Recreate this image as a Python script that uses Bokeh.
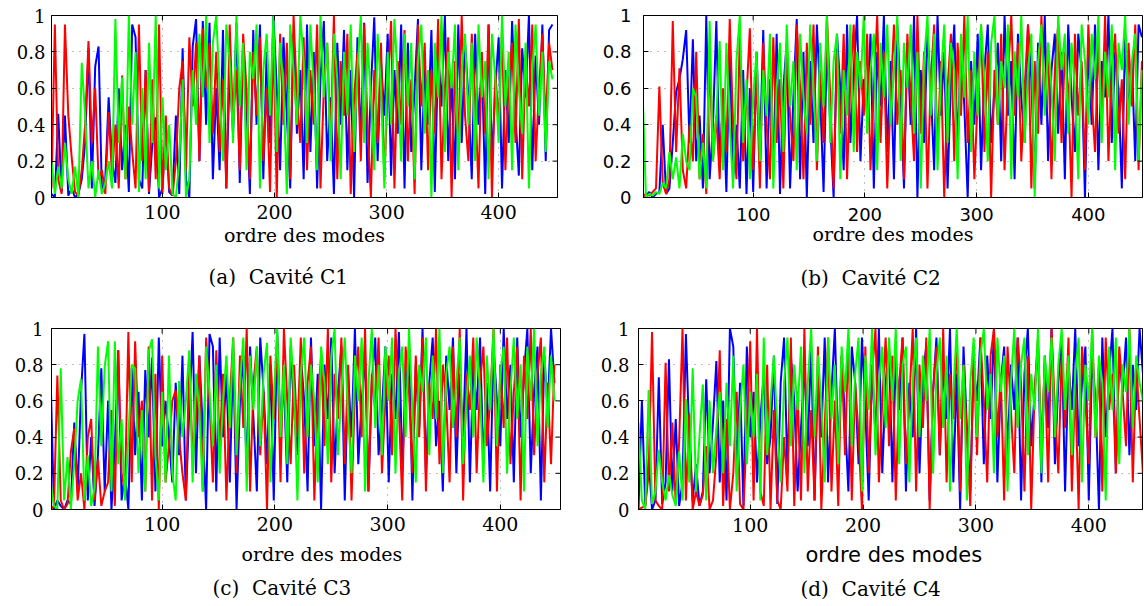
from bokeh.plotting import figure
from bokeh.models import Range1d, FixedTicker, Title
from bokeh.layouts import column, row
from bokeh.embed import file_html
from bokeh.resources import INLINE
import math

# mode order (every third mode is kept)
modes = [1 + 3 * i for i in range(150)]

# values, in percent (converted to fractions below)
c1_blue_pct = [
    2, 0, 46, 3, 45, 1, 5, 0, 2, 10, 30, 82, 5, 72, 83, 2, 10, 55, 20, 8, 60, 15, 40, 3, 95,
    88, 10, 5, 70, 2, 30, 44, 0, 5, 40, 3, 1, 45, 2, 82, 10, 0, 83, 98, 20, 97, 40, 96, 10, 60,
    15, 92, 5, 70, 35, 96, 8, 85, 50, 2, 92, 40, 95, 10, 80, 30, 100, 60, 15, 88, 45, 5, 90, 35, 70,
    10, 95, 25, 80, 5, 65, 97, 20, 55, 2, 85, 40, 92, 15, 70, 0, 88, 30, 96, 8, 60, 99, 20, 75, 45,
    90, 12, 70, 35, 95, 5, 85, 25, 60, 98, 15, 72, 40, 92, 3, 80, 50, 100, 20, 65, 10, 95, 30, 85, 55,
    10, 90, 40, 75, 2, 95, 20, 60, 88, 5, 70, 30, 97, 45, 12, 82, 55, 100, 15, 78, 40, 95, 20, 92, 95]
c1_red_pct = [
    5, 95, 10, 2, 95, 45, 22, 3, 1, 15, 40, 86, 30, 60, 10, 15, 2, 47, 12, 40, 5, 67, 10, 50, 25,
    5, 95, 20, 70, 3, 65, 10, 95, 2, 45, 5, 1, 20, 60, 75, 15, 88, 50, 85, 20, 93, 60, 85, 35, 80,
    25, 65, 5, 95, 40, 70, 15, 90, 60, 10, 80, 45, 88, 20, 60, 3, 90, 0, 90, 40, 85, 10, 100, 55, 30,
    88, 15, 70, 40, 95, 5, 60, 85, 30, 100, 10, 75, 45, 90, 2, 55, 80, 20, 95, 40, 0, 70, 30, 85, 10,
    60, 97, 5, 75, 40, 92, 20, 65, 2, 95, 50, 85, 15, 70, 35, 98, 10, 60, 88, 0, 75, 30, 100, 45, 20,
    90, 55, 5, 80, 35, 95, 0, 70, 40, 92, 15, 65, 85, 30, 98, 10, 75, 50, 95, 20, 60, 90, 40, 85, 70]
c1_green_pct = [
    20, 2, 17, 5, 30, 10, 2, 17, 0, 74, 45, 5, 20, 0, 15, 2, 8, 20, 5, 98, 30, 66, 10, 100, 40,
    80, 3, 60, 10, 85, 30, 100, 5, 55, 15, 40, 2, 0, 20, 65, 0, 10, 70, 40, 90, 55, 100, 30, 85, 100,
    60, 20, 95, 75, 30, 100, 50, 85, 15, 80, 65, 95, 5, 70, 90, 45, 100, 25, 85, 60, 2, 95, 70, 40, 100,
    75, 30, 95, 60, 15, 100, 55, 85, 20, 90, 65, 10, 80, 45, 95, 25, 70, 100, 30, 85, 55, 15, 90, 60, 5,
    80, 40, 98, 65, 20, 90, 50, 85, 10, 75, 95, 35, 70, 0, 85, 55, 100, 25, 80, 60, 95, 15, 70, 90, 40,
    85, 20, 95, 55, 75, 10, 90, 65, 30, 100, 50, 80, 15, 95, 60, 35, 85, 5, 70, 95, 45, 80, 25, 75, 65]

c2_blue_pct = [
    2, 1, 3, 0, 2, 3, 40, 2, 5, 30, 58, 65, 76, 92, 30, 87, 20, 45, 5, 100, 10, 40, 97, 15, 55,
    3, 85, 10, 40, 5, 70, 2, 60, 3, 80, 25, 92, 5, 65, 15, 90, 2, 60, 85, 5, 55, 98, 10, 80, 0,
    75, 30, 95, 55, 3, 85, 40, 0, 90, 60, 15, 95, 30, 70, 100, 20, 65, 45, 90, 5, 80, 50, 100, 25, 75,
    10, 95, 55, 5, 85, 40, 100, 0, 70, 30, 90, 60, 15, 100, 45, 80, 5, 65, 95, 25, 85, 50, 0, 75, 40,
    90, 15, 70, 95, 30, 60, 85, 20, 100, 45, 75, 10, 90, 55, 30, 95, 65, 5, 85, 40, 100, 20, 70, 90, 35,
    80, 10, 95, 55, 25, 90, 70, 0, 85, 40, 95, 15, 75, 55, 100, 30, 80, 60, 5, 90, 45, 75, 20, 95, 88]
c2_red_pct = [
    0, 2, 1, 3, 5, 61, 8, 2, 10, 97, 25, 71, 15, 5, 40, 20, 80, 10, 35, 2, 78, 20, 45, 10, 60,
    25, 98, 40, 10, 89, 20, 55, 93, 15, 70, 5, 85, 40, 10, 88, 30, 65, 5, 80, 45, 20, 95, 60, 10, 85,
    40, 95, 15, 70, 30, 100, 55, 5, 80, 35, 90, 10, 65, 95, 25, 75, 45, 90, 15, 60, 100, 30, 80, 5, 55,
    95, 40, 70, 10, 90, 55, 20, 100, 35, 80, 5, 65, 95, 25, 75, 0, 60, 90, 20, 85, 45, 100, 30, 70, 10,
    55, 95, 25, 80, 0, 70, 40, 90, 15, 65, 100, 45, 85, 20, 60, 95, 5, 75, 35, 100, 50, 85, 10, 70, 95,
    30, 80, 60, 0, 90, 45, 75, 15, 95, 55, 25, 85, 40, 100, 20, 70, 90, 35, 65, 10, 85, 50, 95, 15, 75]
c2_green_pct = [
    58, 0, 2, 1, 3, 2, 8, 5, 25, 10, 22, 5, 35, 20, 15, 60, 55, 10, 30, 5, 97, 20, 45, 86, 15,
    85, 40, 5, 75, 100, 30, 65, 10, 55, 80, 20, 70, 45, 90, 5, 60, 85, 25, 95, 50, 75, 15, 90, 55, 35,
    95, 60, 20, 85, 50, 100, 30, 75, 90, 10, 70, 45, 95, 25, 80, 60, 100, 35, 70, 90, 15, 85, 55, 95, 40,
    70, 100, 20, 85, 60, 95, 35, 80, 5, 75, 100, 45, 90, 15, 65, 95, 30, 85, 70, 10, 90, 55, 100, 25, 80,
    45, 95, 65, 20, 85, 100, 40, 75, 60, 95, 10, 80, 55, 100, 30, 70, 90, 0, 75, 95, 45, 85, 60, 20, 100,
    70, 90, 35, 85, 60, 10, 95, 75, 40, 90, 65, 100, 30, 80, 55, 95, 15, 85, 70, 100, 40, 75, 90, 20, 70]

c3_blue_pct = [
    73, 0, 5, 2, 0, 5, 3, 48, 10, 65, 97, 5, 40, 2, 30, 78, 10, 60, 0, 35, 88, 5, 20, 0, 78,
    30, 65, 5, 77, 40, 84, 10, 95, 35, 60, 40, 15, 70, 30, 85, 5, 55, 98, 20, 85, 45, 0, 97, 90, 10,
    95, 40, 75, 15, 88, 0, 60, 85, 20, 90, 50, 10, 95, 65, 25, 80, 5, 98, 45, 70, 15, 90, 55, 30, 85,
    60, 10, 95, 35, 75, 0, 80, 50, 95, 20, 65, 90, 5, 75, 40, 100, 25, 60, 85, 10, 70, 95, 30, 55, 90,
    15, 75, 50, 98, 25, 65, 90, 5, 80, 45, 100, 20, 70, 95, 35, 60, 10, 85, 55, 95, 20, 75, 40, 100, 15,
    80, 55, 95, 25, 70, 10, 90, 60, 35, 100, 50, 80, 15, 95, 40, 75, 100, 20, 65, 90, 5, 85, 55, 100, 70]
c3_red_pct = [
    0, 2, 74, 5, 0, 3, 32, 45, 5, 20, 0, 40, 50, 5, 28, 2, 10, 15, 55, 2, 88, 20, 10, 98, 15,
    93, 40, 60, 10, 90, 5, 75, 0, 85, 15, 35, 60, 66, 40, 20, 5, 82, 30, 50, 85, 10, 95, 60, 15, 88,
    35, 75, 5, 60, 95, 20, 85, 45, 100, 10, 70, 90, 30, 65, 0, 85, 50, 95, 15, 100, 60, 25, 80, 40, 95,
    20, 70, 90, 5, 60, 85, 35, 100, 15, 75, 50, 95, 25, 80, 5, 65, 90, 40, 100, 10, 75, 55, 95, 20, 60,
    85, 30, 100, 55, 5, 90, 65, 20, 85, 40, 95, 10, 70, 50, 100, 25, 80, 60, 15, 90, 40, 100, 5, 75, 55,
    95, 20, 70, 90, 35, 60, 100, 10, 80, 45, 95, 25, 65, 90, 5, 85, 50, 100, 30, 75, 95, 15, 70, 25, 80]
c3_green_pct = [
    15, 2, 0, 78, 5, 29, 0, 26, 60, 72, 5, 30, 2, 12, 90, 35, 79, 93, 10, 93, 25, 50, 5, 40, 80,
    78, 20, 55, 10, 87, 94, 30, 5, 65, 15, 85, 20, 5, 71, 40, 60, 88, 15, 75, 55, 10, 90, 65, 35, 80,
    20, 60, 85, 45, 95, 30, 70, 95, 10, 85, 55, 90, 35, 75, 92, 15, 60, 100, 40, 80, 25, 95, 65, 5, 75,
    95, 40, 80, 60, 15, 90, 70, 25, 85, 100, 30, 65, 95, 50, 20, 85, 60, 95, 10, 70, 100, 45, 80, 30, 90,
    60, 95, 20, 75, 90, 40, 100, 55, 15, 80, 65, 95, 30, 85, 50, 100, 20, 75, 90, 45, 70, 95, 25, 60, 85,
    40, 95, 65, 15, 85, 55, 100, 35, 75, 90, 20, 65, 95, 50, 80, 10, 90, 60, 100, 35, 75, 90, 45, 85, 60]

c4_blue_pct = [
    0, 60, 2, 28, 0, 5, 73, 3, 15, 83, 10, 50, 2, 15, 97, 40, 5, 25, 2, 10, 72, 20, 48, 82, 15,
    60, 5, 100, 90, 20, 70, 2, 90, 40, 65, 15, 50, 75, 25, 40, 85, 3, 70, 95, 20, 85, 60, 10, 45, 80,
    35, 90, 5, 75, 40, 95, 15, 65, 100, 30, 85, 50, 10, 90, 70, 25, 95, 55, 5, 80, 40, 100, 20, 70, 90,
    15, 85, 55, 95, 10, 70, 40, 100, 20, 75, 90, 5, 65, 95, 30, 80, 50, 100, 15, 75, 0, 90, 45, 10, 80,
    60, 95, 25, 85, 50, 100, 15, 70, 90, 30, 80, 55, 95, 5, 75, 100, 35, 65, 90, 15, 85, 45, 100, 25, 70,
    95, 10, 80, 55, 100, 35, 70, 90, 5, 85, 60, 0, 95, 40, 75, 100, 20, 85, 65, 95, 30, 80, 55, 100, 75]
c4_red_pct = [
    0, 1, 2, 20, 98, 5, 2, 0, 81, 10, 48, 3, 37, 100, 5, 53, 0, 10, 2, 8, 35, 0, 5, 30, 88,
    2, 50, 0, 20, 65, 3, 0, 45, 93, 5, 100, 10, 2, 80, 0, 55, 5, 0, 40, 10, 95, 2, 65, 5, 100,
    10, 55, 5, 90, 0, 45, 95, 10, 60, 2, 85, 30, 95, 5, 70, 40, 0, 90, 20, 75, 100, 15, 60, 95, 35,
    85, 5, 70, 95, 25, 60, 100, 10, 80, 45, 95, 0, 65, 90, 30, 100, 15, 75, 50, 95, 10, 80, 40, 2, 90,
    30, 95, 60, 15, 85, 100, 40, 75, 5, 90, 55, 20, 95, 70, 10, 85, 0, 65, 95, 35, 80, 15, 100, 55, 20,
    85, 45, 95, 10, 70, 0, 90, 60, 25, 100, 40, 80, 10, 95, 55, 75, 20, 90, 65, 35, 100, 15, 80, 50, 20]
c4_green_pct = [
    48, 5, 0, 66, 3, 10, 33, 15, 5, 19, 8, 2, 32, 5, 61, 15, 78, 10, 40, 69, 5, 60, 20, 45, 65,
    20, 70, 35, 85, 10, 55, 80, 25, 65, 40, 75, 5, 95, 30, 60, 85, 45, 15, 70, 95, 35, 80, 55, 90, 20,
    70, 100, 40, 85, 60, 15, 95, 50, 80, 25, 90, 65, 100, 35, 75, 95, 10, 85, 55, 100, 30, 70, 90, 45, 95,
    60, 100, 25, 80, 90, 15, 70, 95, 40, 85, 60, 100, 20, 75, 95, 45, 85, 10, 65, 100, 50, 80, 5, 70, 95,
    40, 85, 100, 55, 75, 20, 95, 65, 85, 10, 70, 100, 45, 80, 95, 30, 75, 55, 100, 20, 85, 65, 95, 40, 80,
    100, 55, 85, 30, 75, 95, 15, 80, 60, 100, 40, 85, 70, 5, 90, 55, 95, 25, 80, 65, 100, 45, 85, 70, 60]

y_ticks = [0, 0.2, 0.4, 0.6, 0.8, 1]
y_tick_labels = ["0", "0.2", "0.4", "0.6", "0.8", "1"]
x_ticks = [100, 200, 300, 400]
x_label = "ordre des modes"
captions = ["(a)\u00a0 Cavité C1", "(b)\u00a0 Cavité C2", "(c)\u00a0 Cavité C3", "(d)\u00a0 Cavité C4"]

SERIF = "DejaVu Serif"
SANS = "DejaVu Sans"


def frac(vals):
    return [v / 100 for v in vals]


def make_panel(series, xr, w, h, borders, tick_font, xt_size, yt_size, x_sb, y_sb,
               xl_font, xl_size, xl_mode, xl_arg, cap_text, cap_offset, cap_valign, cap_sb):
    bl, br, bt, bb = borders
    p = figure(width=w, height=h, x_range=Range1d(*xr), y_range=Range1d(0, 1),
               output_backend="svg", toolbar_location=None,
               min_border_left=bl, min_border_right=br,
               min_border_top=bt, min_border_bottom=bb)
    p.background_fill_color = "white"
    p.border_fill_color = "white"
    p.outline_line_color = "black"
    p.outline_line_width = 1

    for vals, col in zip(series, ["#0000FF", "#FF0000", "#00FF00"]):
        p.line(modes, frac(vals), line_color=col, line_width=2)

    # inward tick marks on the top and right edges of the box
    p.scatter(x_ticks, [y_ticks[-1]] * len(x_ticks), marker="dash", angle=math.pi / 2,
              size=10, line_color="black", line_width=1)
    p.scatter([xr[1]] * len(y_ticks), y_ticks, marker="dash",
              size=10, line_color="black", line_width=1)

    xb = p.xaxis[0]
    yl = p.yaxis[0]
    xb.ticker = FixedTicker(ticks=x_ticks)
    yl.ticker = FixedTicker(ticks=y_ticks)
    yl.major_label_overrides = dict(zip(y_ticks, y_tick_labels))

    for ax in (xb, yl):
        ax.axis_line_color = "black"
        ax.major_tick_line_color = "black"
        ax.major_tick_in = 5
        ax.major_tick_out = 0
        ax.minor_tick_line_color = None
        ax.minor_tick_in = 0
        ax.minor_tick_out = 0
        ax.major_label_text_color = "black"
        ax.major_label_text_font = tick_font
    xb.major_label_text_font_size = f"{xt_size}px"
    yl.major_label_text_font_size = f"{yt_size}px"
    xb.major_label_standoff = x_sb
    yl.major_label_standoff = y_sb

    if xl_mode == "axis":
        xb.axis_label = x_label
        xb.axis_label_text_font = xl_font
        xb.axis_label_text_font_size = f"{xl_size}px"
        xb.axis_label_text_font_style = "normal"
        xb.axis_label_text_color = "black"
        xb.axis_label_standoff = xl_arg
    else:
        xl_offset, xl_sb = xl_arg
        p.add_layout(Title(text=x_label, align="left", offset=xl_offset, vertical_align="top",
                           standoff=xl_sb, text_font=xl_font, text_font_size=f"{xl_size}px",
                           text_font_style="normal", text_color="black"), "below")

    p.grid.grid_line_color = "#808080"
    p.grid.grid_line_dash = "1 6"
    p.grid.grid_line_width = 1

    cap = Title(text=cap_text, align="left", offset=cap_offset, vertical_align=cap_valign,
                standoff=cap_sb, text_font=SERIF, text_font_size="20px",
                text_font_style="normal", text_color="black")
    p.add_layout(cap, "below")
    return p


H1, H2 = 314, 291
pa = make_panel((c1_blue_pct, c1_red_pct, c1_green_pct), (1, 452.5), 595, H1,
                (51, 38, 15, 117), SERIF, 19, 18, 7, 6, SERIF, 19, "axis", 2,
                captions[0], 157, "bottom", 28)
pb = make_panel((c2_blue_pct, c2_red_pct, c2_green_pct), (1.8, 448.5), 548, H1,
                (48, 1, 15, 116), SANS, 18, 18, 10, 12, SERIF, 19, "axis", -1,
                captions[1], 157, "bottom", 32)
pc = make_panel((c3_blue_pct, c3_red_pct, c3_green_pct), (1.8, 453.4), 595, H2,
                (51, 35, 13, 92), SERIF, 19, 18, 7, 8, SERIF, 19, "title", (190, 18),
                captions[2], 161, "top", 0)
pd = make_panel((c4_blue_pct, c4_red_pct, c4_green_pct), (1, 447.6), 548, H2,
                (43, 1, 14, 96), SERIF, 19, 18, 8, 9, SANS, 21, "title", (167, 16),
                captions[3], 162, "top", 0)

layout = column(row(pa, pb), row(pc, pd))

with open("out.html", "w") as f:
    f.write(file_html(layout, INLINE))
